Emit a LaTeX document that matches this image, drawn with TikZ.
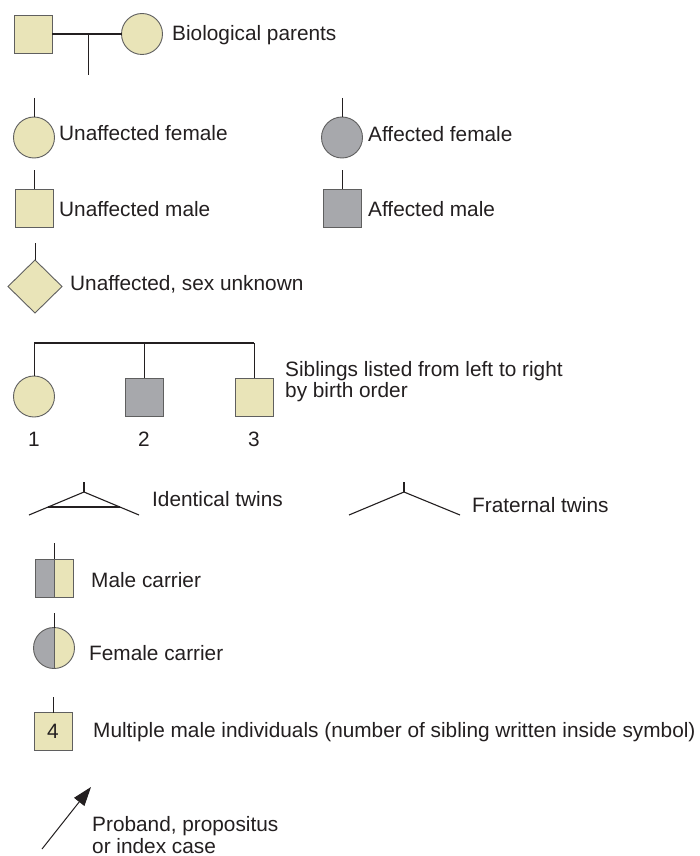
\documentclass[tikz,border=0pt]{standalone}
\usepackage{fontspec}
\setmainfont{Liberation Sans}
\usetikzlibrary{shapes.geometric,arrows.meta}
\definecolor{beige}{HTML}{E9E4B8}
\definecolor{affgray}{HTML}{A7A8AC}
\definecolor{outl}{HTML}{5F5F5F}
\definecolor{ink}{HTML}{231F20}
\begin{document}
\begin{tikzpicture}[x=1pt,y=-1pt,
  sym/.style={draw=outl, line width=0.9pt, inner sep=0pt, outer sep=0pt},
  fem/.style={sym, circle, minimum size=41pt},
  mal/.style={sym, rectangle, minimum size=38pt},
  unk/.style={sym, diamond, aspect=1, minimum width=54pt, minimum height=53pt},
  unaff/.style={fill=beige},
  aff/.style={fill=affgray},
  halfgray/.style={path picture={\fill[affgray] (path picture bounding box.south west) rectangle (path picture bounding box.north);}},
  link/.style={draw=ink, line width=0.9pt},
  twin/.style={draw=ink, line width=1.1pt},
  bond/.style={draw=ink, line width=2.2pt},
  lbl/.style={anchor=base west, inner sep=0pt, text=ink, font=\fontsize{20.8}{24}\selectfont},
  num/.style={anchor=base, inner sep=0pt, text=ink, font=\fontsize{20.8}{24}\selectfont},
]
\fill[white] (0,0) rectangle (700,856);
\useasboundingbox (0,0) rectangle (700,856);

% biological parents
\node[mal, unaff] (p1) at (33,34) {};
\node[fem, unaff] (p2) at (142,34) {};
\coordinate (pm) at (88,34);
\coordinate (pd) at (88,75);
\draw[bond] (p1.east) -- (p2.west);
\draw[link] (pm) -- (pd);
\node[lbl] (tp) at (172,41) {Biological parents};

% unaffected / affected female
\coordinate (uft) at (34,98);
\node[fem, unaff] (uf) at (34,137.5) {};
\draw[link] (uft) -- (uf.north);
\node[lbl] (tuf) at (59,140) {Unaffected female};
\coordinate (aft) at (342,98);
\node[fem, aff] (af) at (342,137.5) {};
\draw[link] (aft) -- (af.north);
\node[lbl] (taf) at (368,141) {Affected female};

% unaffected / affected male
\coordinate (umt) at (34,170);
\node[mal, unaff] (um) at (34,208) {};
\draw[link] (umt) -- (um.north);
\node[lbl] (tum) at (59,216) {Unaffected male};
\coordinate (amt) at (342,170);
\node[mal, aff] (am) at (342,208) {};
\draw[link] (amt) -- (am.north);
\node[lbl] (tam) at (368,216) {Affected male};

% sex unknown
\coordinate (ukt) at (35,243);
\node[unk, unaff] (uk) at (35,286.5) {};
\draw[link] (ukt) -- (uk.north);
\node[lbl] (tuk) at (70,290) {Unaffected, sex unknown};

% siblings
\coordinate (sl) at (34,343);
\coordinate (sm) at (144,343);
\coordinate (sr) at (254,343);
\node[fem, unaff] (s1) at (34,396.5) {};
\node[mal, aff] (s2) at (144,397) {};
\node[mal, unaff] (s3) at (254,397) {};
\draw[bond] (sl) -- (sr);
\draw[link] (sl) -- (s1.north);
\draw[link] (sm) -- (s2.north);
\draw[link] (sr) -- (s3.north);
\node[num] (n1) at (34,446) {1};
\node[num] (n2) at (144,446) {2};
\node[num] (n3) at (254,446) {3};
\node[lbl] (ts1) at (285,376) {Siblings listed from left to right};
\node[lbl] (ts2) at (285,397) {by birth order};

% identical twins
\coordinate (it) at (84,482);
\coordinate (ia) at (84,492);
\coordinate (il) at (29,515);
\coordinate (ir) at (139,515);
\coordinate (ic1) at (48,507);
\coordinate (ic2) at (120,507);
\draw[twin] (it) -- (ia);
\draw[twin] (il) -- (ia) -- (ir);
\draw[twin] (ic1) -- (ic2);
\node[lbl] (tit) at (152,506) {Identical twins};

% fraternal twins
\coordinate (ft) at (404,482);
\coordinate (fa) at (404,492);
\coordinate (fl) at (349,515);
\coordinate (fr) at (460,515);
\draw[twin] (ft) -- (fa);
\draw[twin] (fl) -- (fa) -- (fr);
\node[lbl] (tft) at (472,512) {Fraternal twins};

% male carrier
\coordinate (mct) at (54,543);
\node[mal, unaff, halfgray] (mc) at (54,578) {};
\draw[link] (mct) -- (mc.north);
\draw[draw=outl, line width=0.9pt] (mc.north) -- (mc.south);
\node[lbl] (tmc) at (91,587) {Male carrier};

% female carrier
\coordinate (fct) at (54,613);
\node[fem, unaff, halfgray] (fc) at (54,648) {};
\draw[link] (fct) -- (fc.north);
\draw[draw=outl, line width=0.9pt] (fc.north) -- (fc.south);
\node[lbl] (tfc) at (89,660) {Female carrier};

% multiple males
\coordinate (mmt) at (53,697);
\node[mal, unaff, text=ink, font=\fontsize{20.8}{24}\selectfont] (mm) at (53,731.5) {4};
\draw[link] (mmt) -- (mm.north);
\node[lbl] (tmm) at (93,737) {Multiple male individuals (number of sibling written inside symbol)};

% proband
\coordinate (pt) at (42,849);
\coordinate (ph) at (91,787);
\draw[link, line width=1pt, -{Triangle[length=19pt,width=13pt]}] (pt) -- (ph);
\node[lbl] (tpb1) at (92,831) {Proband, propositus};
\node[lbl] (tpb2) at (92,853) {or index case};
\end{tikzpicture}
\end{document}
